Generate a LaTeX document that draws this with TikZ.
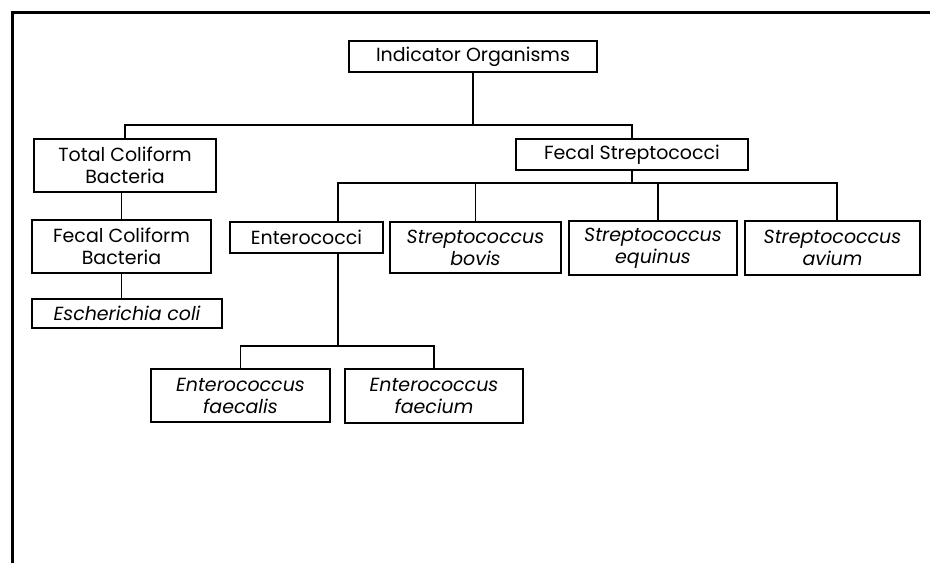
\documentclass[tikz,border=0pt]{standalone}
\usepackage{fontspec}
\setmainfont{Poppins}
\usepackage{tikz}
\usetikzlibrary{positioning, calc}

\tikzset{
    orgbox/.style = {draw, rectangle, line width = 1.3pt, inner sep = 0pt,
    align = center, font = \fontsize{19}{22}\selectfont},
    link/.style = {line width = 1.3pt},
}

\begin{document}
\begin{tikzpicture}[x = 1pt, y = -1pt]
        \useasboundingbox (0,0) rectangle (930,563);
        \draw [line width = 3pt] (12,563) -- (12,12) -- (930,12);
        % boxes
        \node [orgbox, minimum width = 248pt, minimum height = 31pt] (ind)
        at (473,56.5) {Indicator Organisms};
        \node [orgbox, minimum width = 182pt, minimum height = 53pt] (tcb)
        at (125,165.5) {Total Coliform\\Bacteria};
        \node [orgbox, minimum width = 179pt, minimum height = 53pt] (fcb)
        at (121.5,246.5) {Fecal Coliform\\Bacteria};
        \node [orgbox, minimum width = 190pt, minimum height = 29pt] (eco)
        at (127,313.5) {\itshape Escherichia coli};
        \node [orgbox, minimum width = 232pt, minimum height = 31pt] (fs)
        at (632,154.5) {Fecal Streptococci};
        \node [orgbox, minimum width = 153pt, minimum height = 31pt] (ent)
        at (306.5,237.5) {Enterococci};
        \node [orgbox, minimum width = 171pt, minimum height = 51pt] (sbo)
        at (475.5,247.5) {\itshape Streptococcus\\\itshape bovis};
        \node [orgbox, minimum width = 168pt, minimum height = 54pt] (seq)
        at (653,248) {\itshape Streptococcus\\\itshape equinus};
        \node [orgbox, minimum width = 175pt, minimum height = 54pt] (sav)
        at (832.5,248) {\itshape Streptococcus\\\itshape avium};
        \node [orgbox, minimum width = 179pt, minimum height = 53pt] (efa)
        at (240.5,395.5) {\itshape Enterococcus\\\itshape faecalis};
        \node [orgbox, minimum width = 178pt, minimum height = 54pt] (efm)
        at (434,396) {\itshape Enterococcus\\\itshape faecium};
        % bus levels and branch points
        \coordinate (busTop) at (0,125);
        \coordinate (busMid) at (0,183);
        \coordinate (busLow) at (0,346);
        \coordinate (entTop) at ($(ent.north) + (31.5,0)$);
        \coordinate (entBot) at ($(ent.south) + (31.5,0)$);
        \coordinate (seqTop) at ($(seq.north) + (5,0)$);
        \coordinate (savTop) at ($(sav.north) + (4.5,0)$);
        % connectors
        \draw [link] (ind.south) -- (ind.south |- busTop);
        \draw [link] (tcb.north) -- (tcb.north |- busTop) -| (fs.north);
        \draw [link] (fcb.north) -- (fcb.north |- tcb.south);
        \draw [link] (fcb.south) -- (fcb.south |- eco.north);
        \draw [link] (fs.south) -- (fs.south |- busMid);
        \draw [link] (entTop) -- (entTop |- busMid) -| (savTop);
        \draw [link] (sbo.north) -- (sbo.north |- busMid);
        \draw [link] (seqTop) -- (seqTop |- busMid);
        \draw [link] (entBot) -- (entBot |- busLow);
        \draw [link] (efa.north) -- (efa.north |- busLow) -| (efm.north);
\end{tikzpicture}
\end{document}
